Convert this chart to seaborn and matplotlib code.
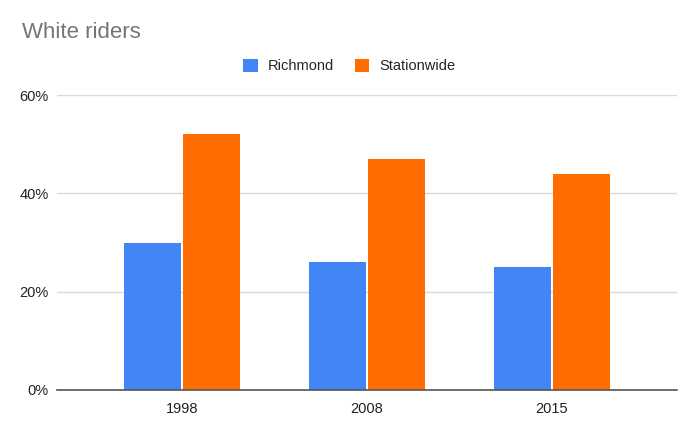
import matplotlib
matplotlib.use("Agg")
import matplotlib.pyplot as plt
import seaborn as sns
import pandas as pd
from matplotlib.patches import Patch
from matplotlib.ticker import PercentFormatter

# Daten
years = ["1998", "2008", "2015"]
richmond = [30, 26, 25]
stationwide = [52, 47, 44]
series = ["Richmond", "Stationwide"]
colors = ["#4285F4", "#FF6D01"]

df = pd.DataFrame({
    "year": years * 2,
    "share": richmond + stationwide,
    "region": [series[0]] * 3 + [series[1]] * 3,
})

sns.set_style("white")
plt.rcParams["font.family"] = ["Liberation Sans", "DejaVu Sans"]

fig = plt.figure(figsize=(6.99, 4.34), dpi=100)
ax = fig.add_axes([0.0815, 0.1014, 0.887, 0.6796])

sns.barplot(data=df, x="year", y="share", hue="region", order=years,
            hue_order=series, palette=colors, width=0.64, gap=0.035,
            saturation=1, linewidth=0, legend=False, ax=ax)

ax.set_ylim(0, 60)
ax.set_xlim(-0.676, 2.676)
ax.set_yticks([0, 20, 40, 60])
ax.yaxis.set_major_formatter(PercentFormatter(decimals=0))
ax.grid(axis="y", color="#d9d9d9", linewidth=1)
ax.set_axisbelow(True)
for s in ["top", "right", "left"]:
    ax.spines[s].set_visible(False)
ax.spines["bottom"].set_color("#555555")
ax.spines["bottom"].set_linewidth(1.2)
ax.spines["bottom"].set_zorder(5)
ax.tick_params(axis="both", length=0, labelsize=10.5, colors="#222222")
ax.tick_params(axis="y", pad=6)
ax.tick_params(axis="x", pad=9)
ax.set_xlabel("")
ax.set_ylabel("")

fig.text(0.031, 0.924, "White riders", fontsize=16, color="#757575",
         ha="left", va="center")

handles = [Patch(facecolor=c, edgecolor="none") for c in colors]
fig.legend(handles, series, loc="center", bbox_to_anchor=(0.5, 0.848),
           ncol=2, frameon=False, fontsize=10.5, handlelength=1.0,
           handleheight=1.0, handletextpad=0.7, columnspacing=1.4)

fig.savefig("out.png", dpi=100)
